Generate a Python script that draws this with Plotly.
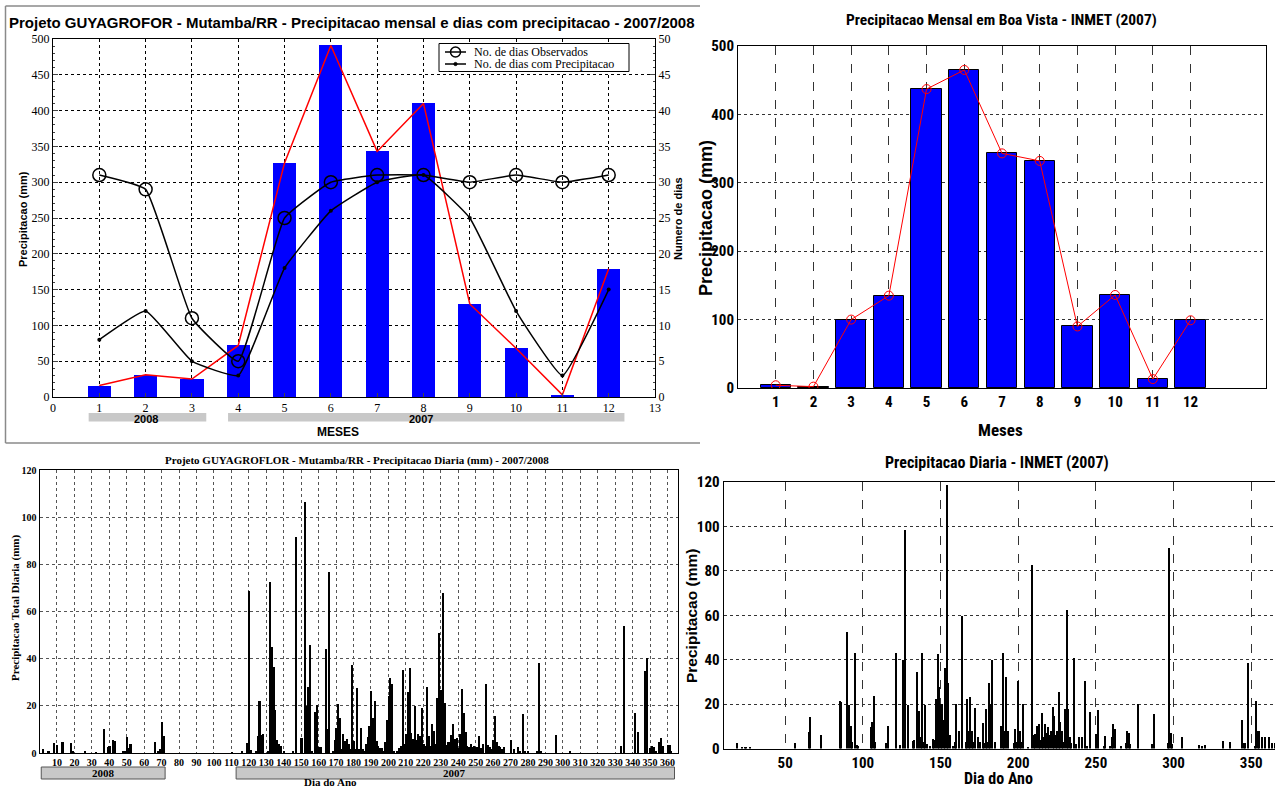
import plotly.graph_objects as go

W, H = 1275, 789


def fx(x):
    return x / W


def fy(y):
    return 1 - y / H


SANS = "Liberation Sans, Arial, Helvetica, sans-serif"
SERIF = "Liberation Serif, Times New Roman, serif"
NARROW = "Liberation Sans Narrow, Arial Narrow, Roboto Condensed, sans-serif"

# ---------------- data ----------------
meses = list(range(1, 13))
precip_mutamba = [16, 31, 25, 72, 327, 491, 343, 410, 130, 68, 3, 179]
dias_observados = [31, 29, 11, 5, 25, 30, 31, 31, 30, 31, 30, 31]
dias_com_precip = [8, 12, 5, 3, 18, 26, 30, 31, 25, 12, 3, 15]
legenda_mutamba = ["No. de dias Observados", "No. de dias com Precipitacao"]

precip_inmet_mensal = [4, 2, 100, 135, 437, 465, 343, 332, 90, 136, 13, 99]

dia_mutamba = [
    2, 5, 8, 10, 13, 18, 19, 26, 32, 37, 39, 40, 42, 43, 48, 49, 50, 51, 52, 66, 68, 69, 70, 71,
    110, 116, 119, 120, 121, 124, 125, 126, 127, 128, 131, 132, 133, 134, 135, 136, 137, 138, 140,
    145, 147, 150, 152, 153, 154, 155, 156, 158, 159, 160, 161, 164, 165, 166, 168, 169, 170, 171,
    172, 173, 174, 175, 176, 177, 178, 179, 180, 181, 182, 183, 184, 185, 186, 187, 188, 189, 190,
    191, 192, 193, 194, 195, 196, 197, 198, 199, 200, 201, 202, 203, 205, 206, 207, 208, 209, 210,
    211, 212, 213, 214, 215, 216, 217, 218, 219, 220, 221, 222, 223, 224, 225, 226, 227, 228, 229,
    230, 231, 232, 233, 234, 235, 236, 237, 238, 239, 240, 241, 242, 243, 244, 245, 246, 247, 248,
    249, 250, 251, 252, 253, 254, 256, 257, 258, 259, 260, 261, 262, 263, 264, 265, 266, 270, 272,
    274, 275, 277, 278, 280, 285, 286, 287, 296, 304, 333, 335, 341, 343, 347, 348, 350, 351, 352,
    353, 355, 356, 357, 360, 361, 362,
]
chuva_mutamba = [
    1.8, 1.0, 4.4, 3.2, 4.5, 4.3, 1.0, 1.0, 0.3, 10.3, 2.5, 3.0, 5.5, 5.0, 0.8, 1.0, 6.8, 2.0, 4.0, 4.8, 0.8, 1.5, 13.0, 7.0,
    0.3, 0.5, 4.1, 68.7, 1.3, 0.5, 7.3, 22.0, 7.5, 8.0, 0.5, 72.6, 44.8, 36.4, 18.3, 5.5, 4.0, 3.0, 0.5,
    1.0, 91.6, 6.3, 106.3, 19.8, 28.0, 45.8, 1.0, 17.2, 20.3, 2.5, 2.5, 43.9, 10.0, 76.9, 1.0, 5.7, 10.5, 20.8,
    14.9, 1.5, 8.0, 5.0, 6.0, 4.0, 1.5, 37.4, 5.0, 1.5, 27.6, 1.5, 10.4, 1.5, 1.0, 4.0, 6.9, 11.5, 26.2,
    15.0, 22.0, 5.0, 3.0, 2.0, 2.0, 1.0, 4.5, 14.0, 24.0, 31.8, 29.4, 1.0, 0.5, 2.0, 3.0, 35.3, 4.0, 8.0,
    26.0, 36.0, 8.5, 6.0, 20.0, 5.5, 8.0, 7.0, 19.0, 4.0, 3.0, 28.0, 7.0, 3.0, 12.4, 9.5, 4.0, 23.2, 50.8,
    26.8, 67.7, 21.3, 3.5, 4.5, 4.5, 7.6, 12.3, 6.0, 6.5, 2.0, 8.0, 27.2, 16.8, 9.0, 3.0, 2.5, 4.0, 2.5,
    3.0, 2.5, 2.5, 7.4, 2.0, 4.0, 29.3, 3.5, 2.5, 1.5, 5.5, 15.8, 4.5, 3.0, 2.5, 1.5, 2.5, 5.7, 1.5,
    2.5, 0.5, 16.4, 0.5, 0.5, 1.0, 38.0, 1.0, 7.8, 0.8, 3.0, 54.0, 17.0, 9.0, 34.6, 40.2, 2.0, 3.0, 2.5,
    1.0, 4.5, 6.2, 3.0, 3.5, 3.5, 0.5,
]

dia_inmet = [
    19, 22, 24, 25, 27, 56, 65, 66, 73, 85, 86, 90, 91, 92, 93, 95, 96, 97, 105, 106, 107, 108,
    115, 116, 121, 124, 126, 127, 129, 132, 133, 135, 136, 137, 138, 139, 140, 141, 143, 145, 146,
    147, 148, 149, 150, 151, 152, 153, 154, 155, 156, 158, 159, 160, 162, 164, 166, 167, 168, 169,
    170, 171, 172, 174, 175, 177, 178, 179, 180, 181, 182, 183, 185, 189, 190, 191, 192, 193, 197,
    198, 199, 200, 201, 202, 203, 206, 209, 210, 211, 212, 213, 214, 215, 216, 217, 218, 219, 220,
    221, 222, 223, 224, 225, 226, 227, 228, 229, 230, 231, 232, 233, 234, 236, 237, 239, 241, 243,
    244, 246, 250, 251, 255, 256, 259, 260, 261, 262, 266, 269, 270, 271, 272, 277, 286, 287, 296,
    297, 298, 299, 305, 316, 318, 320, 332, 336, 344, 345, 346, 348, 352, 353, 354, 355, 357, 359,
    361, 363, 365,
]
chuva_inmet = [
    2.3, 0.5, 0.5, 0.5, 0.3, 2.5, 7.5, 14.3, 6.3, 21.5, 21.0, 52.3, 19.5, 10.0, 3.0, 43.2, 1.5, 1.0, 9.5, 12.0, 23.6, 3.0,
    2.5, 10.0, 43.0, 1.5, 40.0, 98.5, 19.5, 3.5, 4.0, 34.6, 17.0, 5.0, 42.9, 3.0, 19.8, 2.0, 1.0, 4.5, 4.0,
    22.5, 42.4, 27.5, 20.0, 20.0, 13.0, 36.1, 118.5, 29.3, 6.0, 1.0, 3.0, 20.0, 8.0, 59.8, 3.0, 22.1, 8.0, 23.0,
    8.0, 3.0, 18.3, 5.0, 3.0, 11.7, 2.5, 18.0, 3.0, 29.5, 20.0, 39.8, 3.0, 10.0, 43.2, 8.0, 32.0, 8.0, 2.5,
    9.0, 3.0, 30.5, 8.0, 3.0, 20.0, 0.5, 82.7, 6.0, 6.5, 10.0, 11.0, 4.0, 15.8, 5.0, 11.0, 7.0, 9.5, 6.0,
    8.0, 18.5, 14.5, 6.0, 8.0, 25.6, 12.0, 8.0, 3.0, 18.0, 62.4, 18.0, 5.0, 2.5, 40.6, 2.0, 5.0, 5.0, 30.4,
    1.0, 16.4, 6.5, 17.5, 1.0, 5.5, 1.0, 5.0, 11.0, 9.0, 1.0, 2.5, 8.0, 7.0, 2.0, 20.0, 2.0, 15.5, 2.5,
    90.5, 7.0, 2.0, 5.0, 1.5, 1.0, 1.5, 3.5, 3.0, 13.0, 2.5, 2.5, 38.5, 1.0, 21.5, 8.0, 8.0, 5.0, 5.0,
    5.0, 2.5, 2.5,
]

ticks_mes = list(range(0, 14))
ticks_dia_mutamba = list(range(10, 361, 10))
ticks_dia_inmet = list(range(50, 351, 50))

# ---------------- figure ----------------
fig = go.Figure()

SMOOTH = 0.35

# Top-left: Mutamba monthly
fig.add_trace(go.Bar(x=meses, y=precip_mutamba, width=0.5,
                     marker=dict(color="#0000ff", line=dict(width=0)),
                     xaxis="x", yaxis="y"))
fig.add_trace(go.Scatter(x=meses, y=precip_mutamba, mode="lines",
                         line=dict(color="#ff0000", width=1.5),
                         xaxis="x", yaxis="y"))
fig.add_trace(go.Scatter(x=meses, y=dias_observados, name=legenda_mutamba[0],
                         mode="lines+markers",
                         line=dict(color="black", width=1.5, shape="spline", smoothing=SMOOTH),
                         marker=dict(symbol="circle-open", size=13, color="black", line=dict(width=1.5)),
                         xaxis="x", yaxis="y2"))
fig.add_trace(go.Scatter(x=meses, y=dias_com_precip, name=legenda_mutamba[1],
                         mode="lines+markers",
                         line=dict(color="black", width=1.5, shape="spline", smoothing=SMOOTH),
                         marker=dict(symbol="circle", size=4, color="black"),
                         xaxis="x", yaxis="y2"))

# Top-right: INMET monthly
fig.add_trace(go.Bar(x=meses, y=precip_inmet_mensal, width=0.8,
                     marker=dict(color="#0000ff", line=dict(color="black", width=1)),
                     xaxis="x2", yaxis="y3"))
fig.add_trace(go.Scatter(x=meses, y=precip_inmet_mensal, mode="lines+markers",
                         line=dict(color="#ff0000", width=1),
                         marker=dict(symbol="circle-open", size=9, color="#ff0000", line=dict(width=1)),
                         xaxis="x2", yaxis="y3"))

# Bottom-left: Mutamba daily
fig.add_trace(go.Bar(x=dia_mutamba, y=chuva_mutamba, width=0.95,
                     marker=dict(color="black", line=dict(width=0)),
                     xaxis="x3", yaxis="y4"))

# Bottom-right: INMET daily
fig.add_trace(go.Bar(x=dia_inmet, y=chuva_inmet, width=0.9,
                     marker=dict(color="black", line=dict(width=0)),
                     xaxis="x4", yaxis="y5"))

common = dict(showline=True, linecolor="black", linewidth=1, mirror=True, zeroline=False,
              showgrid=True, gridwidth=1)

layout = dict(
    width=W, height=H, margin=dict(l=0, r=0, t=0, b=0, autoexpand=False),
    paper_bgcolor="white", plot_bgcolor="white",
    bargap=0, barmode="overlay",
    showlegend=False,
    # top-left
    xaxis=dict(domain=[fx(53), fx(655)], anchor="y", range=[0, 13], tickvals=ticks_mes,
               gridcolor="black", griddash="dot", ticks="inside", ticklen=4,
               tickfont=dict(family=SERIF, size=12, color="black"), **common),
    yaxis=dict(domain=[fy(397), fy(39)], anchor="x", range=[0, 500], dtick=50,
               gridcolor="black", griddash="dot", ticks="inside", ticklen=5,
               minor=dict(ticks="inside", ticklen=2, dtick=10, showgrid=False),
               tickfont=dict(family=SERIF, size=12, color="black"), **common),
    yaxis2=dict(overlaying="y", side="right", anchor="x", range=[0, 50], dtick=5,
                showgrid=False, zeroline=False, showline=True, linecolor="black",
                ticks="inside", ticklen=5,
                minor=dict(ticks="inside", ticklen=2, dtick=1),
                tickfont=dict(family=SERIF, size=12, color="black")),
    # top-right
    xaxis2=dict(domain=[fx(738), fx(1266)], anchor="y3", range=[0, 14], tickvals=meses,
                gridcolor="#333333", griddash="dash", ticks="",
                tickfont=dict(family=NARROW, size=15, color="black", weight="bold"), **common),
    yaxis3=dict(domain=[fy(388), fy(46)], anchor="x2", range=[0, 500], dtick=100,
                gridcolor="#333333", griddash="dot", ticks="",
                tickfont=dict(family=NARROW, size=15, color="black", weight="bold"), **common),
    # bottom-left
    xaxis3=dict(domain=[fx(39.5), fx(678)], anchor="y4", range=[0, 366], tickvals=ticks_dia_mutamba,
                gridcolor="#555555", griddash="dot", ticks="", tickangle=0,
                tickfont=dict(family=SERIF, size=10, color="black", weight="bold"), **common),
    yaxis4=dict(domain=[fy(753), fy(470)], anchor="x3", range=[0, 120], dtick=20,
                gridcolor="#555555", griddash="dot", ticks="",
                tickfont=dict(family=SERIF, size=10, color="black", weight="bold"), **common),
    # bottom-right
    xaxis4=dict(domain=[fx(723.6), 1.0], anchor="y5", range=[10.4, 365.3], tickvals=ticks_dia_inmet,
                gridcolor="#333333", griddash="dash", ticks="",
                tickfont=dict(family=NARROW, size=15, color="black", weight="bold"), **common),
    yaxis5=dict(domain=[fy(748.5), fy(482)], anchor="x4", range=[0, 120], dtick=20,
                gridcolor="#333333", griddash="dot", ticks="",
                tickfont=dict(family=NARROW, size=15, color="black", weight="bold"), **common),
)
fig.update_layout(**layout)

ann = []


def add_text(x, y, text, font, angle=0, xanchor="center", yanchor="middle", xref="paper"):
    ann.append(dict(x=fx(x) if xref == "paper" else x, y=fy(y), xref=xref, yref="paper",
                    text=text, showarrow=False, font=font, textangle=angle,
                    xanchor=xanchor, yanchor=yanchor))


# titles
add_text(352, 22, "Projeto GUYAGROFOR - Mutamba/RR - Precipitacao mensal e dias com precipitacao - 2007/2008",
         dict(family=SANS, size=15, color="black", weight="bold"))
add_text(1001, 20, "Precipitacao Mensal em Boa Vista - INMET (2007)",
         dict(family=NARROW, size=15.5, color="black", weight="bold"))
add_text(357, 460, "Projeto GUYAGROFLOR - Mutamba/RR - Precipitacao Diaria (mm) - 2007/2008",
         dict(family=SERIF, size=11, color="black", weight="bold"))
add_text(997, 462, "Precipitacao Diaria - INMET (2007)",
         dict(family=NARROW, size=16, color="black", weight="bold"))

# axis titles
add_text(23, 219, "Precipitacao (mm)", dict(family=SANS, size=11, color="black", weight="bold"), angle=-90)
add_text(678, 219, "Numero de dias", dict(family=SANS, size=11, color="black", weight="bold"), angle=-90)
add_text(338, 432, "MESES", dict(family=SANS, size=12, color="black", weight="bold"))
add_text(706, 218, "Precipitacao (mm)", dict(family=SANS, size=18, color="black", weight="bold"), angle=-90)
add_text(1000, 430, "Meses", dict(family=NARROW, size=17, color="black", weight="bold"))
add_text(15, 608, "Precipitacao Total Diaria (mm)", dict(family=SERIF, size=11, color="black", weight="bold"), angle=-90)
add_text(330, 782, "Dia do Ano", dict(family=SERIF, size=11, color="black", weight="bold"))
add_text(691, 616, "Precipitacao (mm)", dict(family=SANS, size=15.5, color="black", weight="bold"), angle=-90)
add_text(998, 778, "Dia do Ano", dict(family=NARROW, size=16, color="black", weight="bold"))

# year labels
add_text(2.0, 419, "2008", dict(family=SANS, size=11, color="black", weight="bold"), xref="x")
add_text(7.95, 419, "2007", dict(family=SANS, size=11, color="black", weight="bold"), xref="x")
add_text(36.5, 773, "2008", dict(family=SERIF, size=11, color="black", weight="bold"), xref="x3")
add_text(238, 773, "2007", dict(family=SERIF, size=11, color="black", weight="bold"), xref="x3")

# custom legend text (top-left)
add_text(472, 52, legenda_mutamba[0], dict(family=SERIF, size=12, color="black"), xanchor="left")
add_text(472, 64, legenda_mutamba[1], dict(family=SERIF, size=12, color="black"), xanchor="left")

fig.update_layout(annotations=ann)


def circle_px(cx, cy, r, **kw):
    return dict(type="circle", xref="paper", yref="paper",
                x0=fx(cx - r), x1=fx(cx + r), y0=fy(cy + r), y1=fy(cy - r), **kw)


shapes = [
    # year bars top-left
    dict(type="rect", xref="x", yref="paper", x0=0.77, x1=3.31, y0=fy(421.5), y1=fy(413),
         fillcolor="#c8c8c8", line=dict(width=0), layer="below"),
    dict(type="rect", xref="x", yref="paper", x0=3.78, x1=12.34, y0=fy(421.5), y1=fy(413),
         fillcolor="#c8c8c8", line=dict(width=0), layer="below"),
    # year bars bottom-left
    dict(type="rect", xref="x3", yref="paper", x0=1.0, x1=72.0, y0=fy(779), y1=fy(767),
         fillcolor="#c8c8c8", line=dict(color="#555555", width=1), layer="below"),
    dict(type="rect", xref="x3", yref="paper", x0=112.7, x1=364.0, y0=fy(779), y1=fy(767),
         fillcolor="#c8c8c8", line=dict(color="#555555", width=1), layer="below"),
    # frame around the top-left panel
    dict(type="line", xref="paper", yref="paper", x0=fx(5.5), x1=fx(5.5), y0=fy(443), y1=fy(6),
         line=dict(color="#8a8a8a", width=1.5)),
    dict(type="line", xref="paper", yref="paper", x0=fx(5.5), x1=fx(700), y0=fy(6), y1=fy(6),
         line=dict(color="#8a8a8a", width=1.5)),
    dict(type="line", xref="paper", yref="paper", x0=fx(5.5), x1=fx(700), y0=fy(443), y1=fy(443),
         line=dict(color="#8a8a8a", width=1.5)),
    # custom legend box
    dict(type="rect", xref="paper", yref="paper", x0=fx(439), x1=fx(629), y0=fy(71.5), y1=fy(43.5),
         fillcolor="white", line=dict(color="black", width=1)),
    dict(type="line", xref="paper", yref="paper", x0=fx(445), x1=fx(466), y0=fy(52), y1=fy(52),
         line=dict(color="black", width=1.5)),
    circle_px(455.5, 52, 5, line=dict(color="black", width=1.5), fillcolor="rgba(0,0,0,0)"),
    dict(type="line", xref="paper", yref="paper", x0=fx(445), x1=fx(466), y0=fy(64), y1=fy(64),
         line=dict(color="black", width=1.5)),
    circle_px(455.5, 64, 1.6, line=dict(color="black", width=1), fillcolor="black"),
]
fig.update_layout(shapes=shapes)

fig.write_html("out.html", config={"displayModeBar": False})

# remove the browser's default page margin so the figure sits at (0, 0)
with open("out.html", "r", encoding="utf-8") as f:
    html = f.read()
html = html.replace("<head>", "<head><style>html,body{margin:0;padding:0;overflow:hidden;}</style>", 1)
with open("out.html", "w", encoding="utf-8") as f:
    f.write(html)
